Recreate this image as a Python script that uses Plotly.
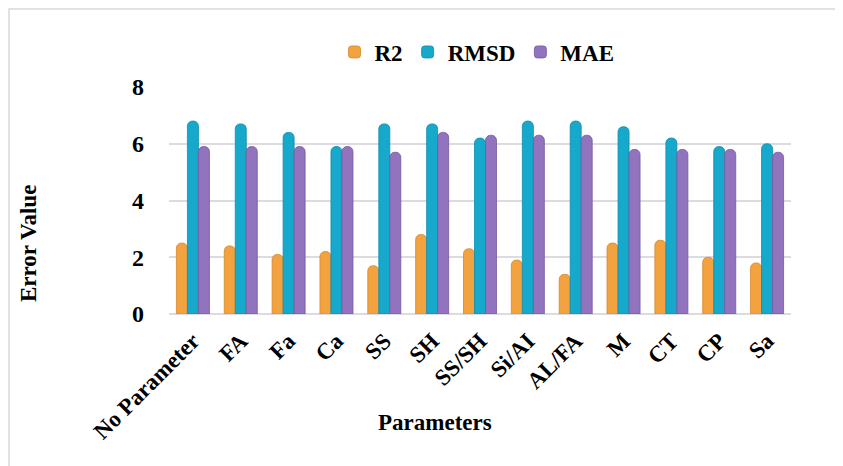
import plotly.graph_objects as go

categories = ["No Parameter", "FA", "Fa", "Ca", "SS", "SH", "SS/SH", "Si/AI", "AL/FA", "M", "CT", "CP", "Sa"]
r2 = [2.5, 2.4, 2.1, 2.2, 1.7, 2.8, 2.3, 1.9, 1.4, 2.5, 2.6, 2.0, 1.8]
rmsd = [6.8, 6.7, 6.4, 5.9, 6.7, 6.7, 6.2, 6.8, 6.8, 6.6, 6.2, 5.9, 6.0]
mae = [5.9, 5.9, 5.9, 5.9, 5.7, 6.4, 6.3, 6.3, 6.3, 5.8, 5.8, 5.8, 5.7]
y_ticks = [0, 2, 4, 6, 8]

FONT = "Liberation Serif"

fig = go.Figure()
fig.add_trace(go.Bar(name="R2", x=categories, y=r2,
                     marker=dict(color="#F2A23E", line=dict(color="#D8862A", width=0.8))))
fig.add_trace(go.Bar(name="RMSD", x=categories, y=rmsd,
                     marker=dict(color="#16A9CC", line=dict(color="#0E8CAA", width=0.8))))
fig.add_trace(go.Bar(name="MAE", x=categories, y=mae,
                     marker=dict(color="#9273BD", line=dict(color="#74599E", width=0.8))))

# page body has an 8px default margin; compensate
OFF = 8
W, H = 843 - OFF, 466 - OFF
L, R, T, B = 169 - OFF, 52, 87 - OFF, 152
pw, ph = W - L - R, H - T - B

def px2x(px):
    return (px - OFF - L) / pw

def px2y(py):
    return (H - B - (py - OFF)) / ph

fig.update_layout(
    width=W, height=H,
    margin=dict(l=L, r=R, t=T, b=B, autoexpand=False),
    paper_bgcolor="white", plot_bgcolor="white",
    barmode="group", bargap=0.31, bargroupgap=0.0,
    barcornerradius=5,
    font=dict(family=FONT, color="black"),
    showlegend=True,
    legend=dict(orientation="h", xref="container", yref="container",
                x=(477 - OFF) / W, y=1 - (52 - OFF) / H, xanchor="center", yanchor="middle",
                font=dict(family=FONT, size=23, color="black", weight="bold"),
                itemwidth=30, traceorder="normal", bgcolor="rgba(0,0,0,0)"),
    xaxis=dict(tickangle=-45, tickfont=dict(family=FONT, size=23, color="black", weight="bold"),
               showgrid=False, showline=False, ticks="", automargin=False,
               ticklabelstandoff=8),
    yaxis=dict(range=[0, 8], tickvals=y_ticks, ticktext=[str(v) for v in y_ticks],
               tickfont=dict(family=FONT, size=24, color="black", weight="bold"),
               showgrid=True, gridcolor="#DCDCE0", gridwidth=1.5,
               zeroline=True, zerolinecolor="#DCDCE0", zerolinewidth=2,
               showline=False, ticks="", ticklabelstandoff=24, automargin=False),
    shapes=[dict(type="rect", xref="paper", yref="paper",
                 x0=px2x(9), x1=px2x(870), y0=px2y(490), y1=px2y(9),
                 line=dict(color="#D9D9D9", width=1.5), fillcolor="rgba(0,0,0,0)", layer="below")],
    annotations=[
        dict(text="Error Value", xref="paper", yref="paper", x=px2x(28), y=px2y(244),
             textangle=-90, showarrow=False, xanchor="center", yanchor="middle",
             font=dict(family=FONT, size=23, color="black", weight="bold")),
        dict(text="Parameters", xref="paper", yref="paper", x=px2x(435), y=px2y(422),
             showarrow=False, xanchor="center", yanchor="middle",
             font=dict(family=FONT, size=23, color="black", weight="bold")),
    ],
)

fig.write_html("out.html")
